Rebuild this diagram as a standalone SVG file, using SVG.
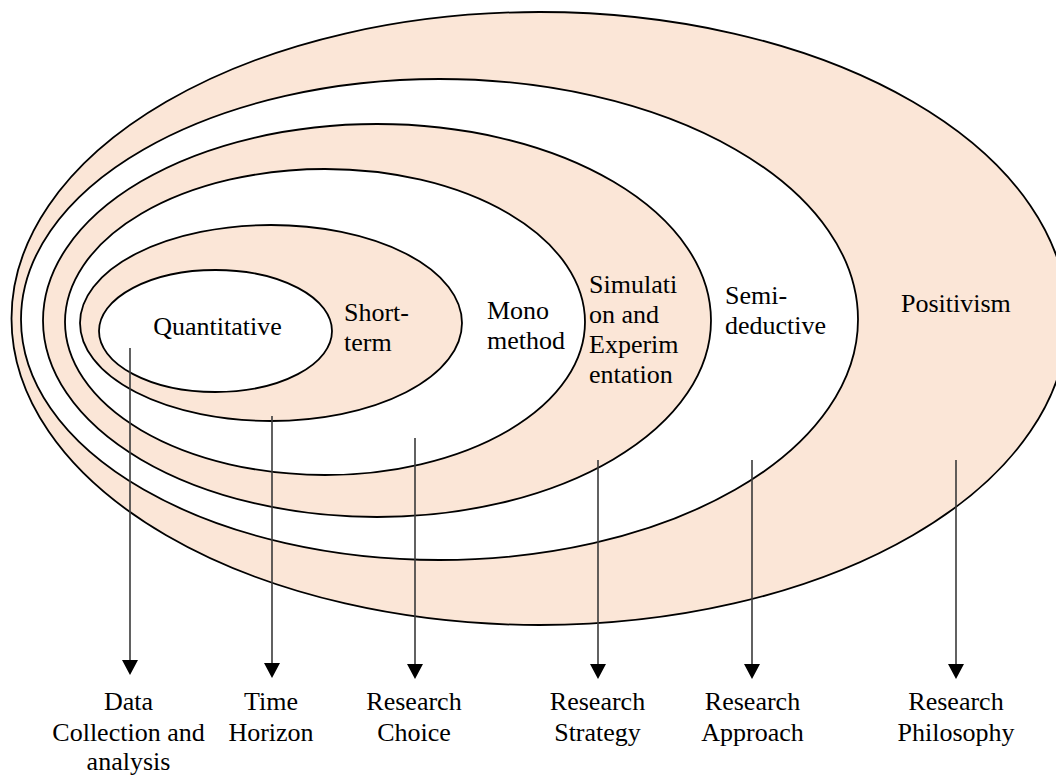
<svg xmlns="http://www.w3.org/2000/svg" width="1056" height="778" viewBox="0 0 1056 778">
  <style>
    .ring { stroke: #000; stroke-width: 1.8; }
    .peach { fill: #FBE6D7; }
    .white { fill: #FFFFFF; }
    .lbl { font-family: 'Liberation Serif', 'DejaVu Serif', serif; font-size: 26px; fill: #000; }
    .mid { text-anchor: middle; }
    .conn { stroke: #3a3a3a; stroke-width: 1.6; fill: none; marker-end: url(#head); }
  </style>
  <defs>
    <marker id="head" viewBox="0 0 15 16" refX="0" refY="8" markerWidth="15" markerHeight="16" markerUnits="userSpaceOnUse" orient="auto">
      <path d="M0,0 L15,8 L0,16 z" fill="#000"/>
    </marker>
  </defs>
  <rect width="1056" height="778" fill="#FFFFFF"/>

  <!-- research onion layers, outermost first -->
  <g id="philosophy">
    <ellipse class="ring peach" cx="539.5" cy="318.5" rx="528" ry="306.5"/>
    <text class="lbl" x="901" y="312">Positivism</text>
  </g>
  <g id="approach">
    <ellipse class="ring white" cx="439.5" cy="319.5" rx="418.5" ry="240.5"/>
    <text class="lbl" x="725" y="304">Semi-</text>
    <text class="lbl" x="725" y="334">deductive</text>
  </g>
  <g id="strategy">
    <ellipse class="ring peach" cx="377" cy="320.5" rx="334" ry="196.5"/>
    <text class="lbl" x="589" y="292.5">Simulati</text>
    <text class="lbl" x="589" y="322.5">on and</text>
    <text class="lbl" x="589" y="352.5">Experim</text>
    <text class="lbl" x="589" y="382.5">entation</text>
  </g>
  <g id="choice">
    <ellipse class="ring white" cx="325" cy="322" rx="260" ry="153"/>
    <text class="lbl" x="487" y="318.5">Mono</text>
    <text class="lbl" x="487" y="348.5">method</text>
  </g>
  <g id="time-horizon">
    <ellipse class="ring peach" cx="271" cy="323" rx="191" ry="98"/>
    <text class="lbl" x="344" y="321">Short-</text>
    <text class="lbl" x="344" y="351">term</text>
  </g>
  <g id="data-collection">
    <ellipse class="ring white" cx="215.5" cy="331" rx="116.5" ry="61"/>
    <text class="lbl mid" x="217.5" y="335">Quantitative</text>
  </g>

  <!-- pointers from each layer to its caption -->
  <g id="connectors">
    <line class="conn" x1="130" y1="348" x2="130" y2="660"/>
    <line class="conn" x1="272" y1="416" x2="272" y2="663"/>
    <line class="conn" x1="415" y1="438" x2="415" y2="664"/>
    <line class="conn" x1="598" y1="460" x2="598" y2="664"/>
    <line class="conn" x1="752" y1="460" x2="752" y2="664"/>
    <line class="conn" x1="956" y1="460" x2="956" y2="664"/>
  </g>

  <!-- layer captions -->
  <g id="captions">
    <g id="cap-data">
      <text class="lbl mid" x="128.5" y="710">Data</text>
      <text class="lbl mid" x="128.5" y="741">Collection and</text>
      <text class="lbl mid" x="128.5" y="770">analysis</text>
    </g>
    <g id="cap-time">
      <text class="lbl mid" x="271" y="710">Time</text>
      <text class="lbl mid" x="271" y="741">Horizon</text>
    </g>
    <g id="cap-choice">
      <text class="lbl mid" x="414" y="710">Research</text>
      <text class="lbl mid" x="414" y="741">Choice</text>
    </g>
    <g id="cap-strategy">
      <text class="lbl mid" x="597.5" y="710">Research</text>
      <text class="lbl mid" x="597.5" y="741">Strategy</text>
    </g>
    <g id="cap-approach">
      <text class="lbl mid" x="752.5" y="710">Research</text>
      <text class="lbl mid" x="752.5" y="741">Approach</text>
    </g>
    <g id="cap-philosophy">
      <text class="lbl mid" x="956" y="710">Research</text>
      <text class="lbl mid" x="956" y="741">Philosophy</text>
    </g>
  </g>
</svg>
